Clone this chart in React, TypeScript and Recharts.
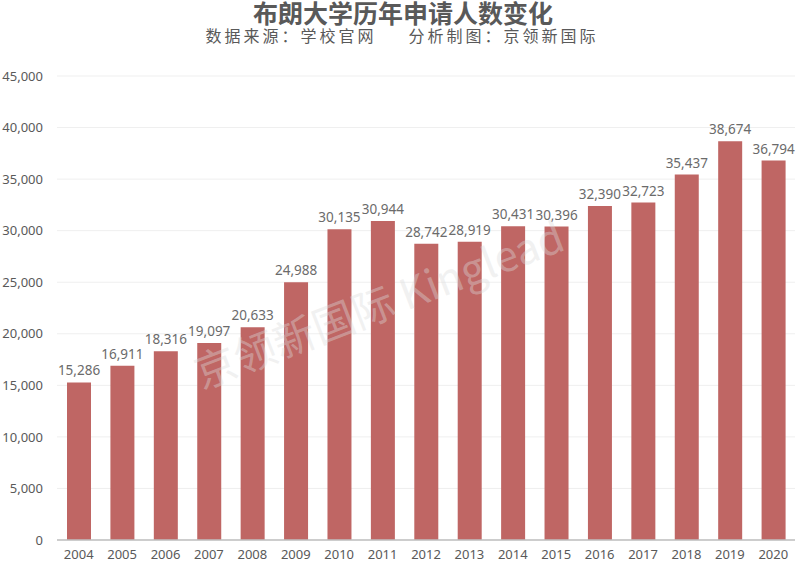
import React from "react";
import { BarChart, Bar, XAxis, YAxis, CartesianGrid, LabelList } from "recharts";

// 布朗大学历年申请人数
const years = ["2004", "2005", "2006", "2007", "2008", "2009", "2010", "2011", "2012", "2013", "2014", "2015", "2016", "2017", "2018", "2019", "2020"];
const applicants = [15286, 16911, 18316, 19097, 20633, 24988, 30135, 30944, 28742, 28919, 30431, 30396, 32390, 32723, 35437, 38674, 36794];
const yTicks = [0, 5000, 10000, 15000, 20000, 25000, 30000, 35000, 40000, 45000];

const data = years.map((year, i) => ({ year, value: applicants[i] }));

const W = 798;
const H = 569;
const textColor = "#595959";
const font = "'Noto Sans', 'Noto Sans CJK SC', sans-serif";
const cjk = "'Noto Sans CJK SC', sans-serif";
const fmt = (v: number) => v.toLocaleString("en-US");

export default function App() {
  return (
    <div style={{ position: "absolute", left: 0, top: 0, width: W, height: H, background: "#fff", overflow: "hidden", fontFamily: font }}>
      <div style={{ position: "absolute", top: -1, left: 4, width: W, textAlign: "center", fontSize: 25, lineHeight: "26px", fontWeight: 700, color: textColor, fontFamily: cjk }}>
        布朗大学历年申请人数变化
      </div>
      <div style={{ position: "absolute", top: 26, left: 3, width: W, textAlign: "center", fontSize: 16, lineHeight: "18px", letterSpacing: 3, color: textColor, fontFamily: cjk, whiteSpace: "nowrap" }}>
        <span>数据来源：学校官网</span>
        <span style={{ marginLeft: 32 }}>分析制图：京领新国际</span>
      </div>
      <BarChart width={W} height={H} data={data} margin={{ top: 76, right: 3, left: 0, bottom: 0 }}>
        <CartesianGrid vertical={false} stroke="#efefef" />
        <XAxis
          dataKey="year"
          height={29}
          tickLine={false}
          axisLine={{ stroke: "#bfbfbf", strokeWidth: 1.5 }}
          tick={{ fill: textColor, fontSize: 13 }}
          tickMargin={4}
          interval={0}
        />
        <YAxis
          width={57}
          domain={[0, 45000]}
          ticks={yTicks}
          tickFormatter={fmt}
          tickLine={false}
          axisLine={false}
          tick={{ fill: textColor, fontSize: 13 }}
          tickMargin={8}
        />
        <Bar dataKey="value" fill="#bf6664" barSize={24} isAnimationActive={false}>
          <LabelList dataKey="value" position="top" offset={7} formatter={(v: number) => fmt(v)} style={{ fill: "#6b6b6b", fontSize: 13.5 }} />
        </Bar>
      </BarChart>
      <div
        style={{
          position: "absolute",
          left: 378,
          top: 302,
          transform: "translate(-50%, -50%) rotate(-21deg)",
          fontSize: 42,
          color: "rgba(220,220,220,0.4)",
          whiteSpace: "nowrap",
          fontFamily: cjk,
          pointerEvents: "none",
        }}
      >
        京领新国际 Kinglead
      </div>
    </div>
  );
}
